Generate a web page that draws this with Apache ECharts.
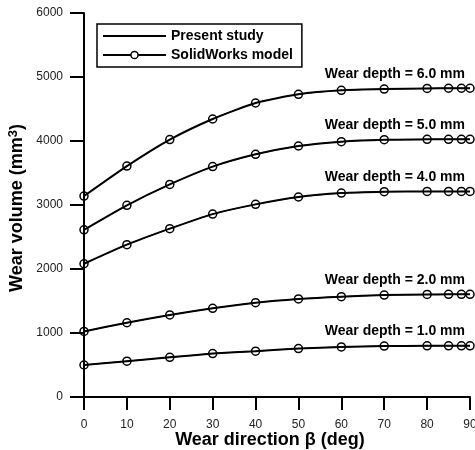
<!DOCTYPE html>
<html>
<head>
<meta charset="utf-8">
<script src="https://cdn.jsdelivr.net/npm/echarts@6/dist/echarts.min.js"></script>
<style>
  html, body { margin: 0; padding: 0; background: #fff; }
  #chart { width: 475px; height: 450px; }
</style>
</head>
<body>
<div id="chart"></div>
<script>
const chartDom = document.querySelector('#chart')
let chart = echarts.init(chartDom)

// wear direction beta (deg)
const beta = [0, 10, 20, 30, 40, 50, 60, 70, 80, 85, 88, 90]

// wear volume (mm3) for each wear depth
const depthLabels = ['6.0', '5.0', '4.0', '2.0', '1.0']
const vol6 = [3140, 3608, 4022, 4344, 4594, 4730, 4792, 4812, 4822, 4824, 4824, 4824]
const vol5 = [2612, 2995, 3322, 3600, 3792, 3922, 3990, 4020, 4026, 4027, 4027, 4027]
const vol4 = [2082, 2380, 2630, 2858, 3010, 3125, 3186, 3208, 3212, 3212, 3212, 3212]
const vol2 = [1025, 1160, 1282, 1386, 1474, 1532, 1568, 1592, 1602, 1604, 1604, 1604]
const vol1 = [500, 560, 620, 678, 716, 756, 782, 796, 800, 800, 800, 800]
const volumes = [vol6, vol5, vol4, vol2, vol1]

const yTicks = [0, 1000, 2000, 3000, 4000, 5000, 6000]

const font = 'Liberation Sans, Arial, sans-serif'

function pairs(vals) {
    return beta.map((b, i) => [b, vals[i]])
}

let series = []
volumes.forEach((vals, k) => {
    let last = vals[vals.length - 1]
    series.push({
        type: 'line',
        name: 'Present study',
        data: pairs(vals),
        smooth: 0.2,
        symbol: 'none',
        lineStyle: { color: '#000', width: 2 },
        itemStyle: { color: '#000' },
        z: 2,
        markPoint: {
            symbol: 'circle',
            symbolSize: 0,
            silent: true,
            data: [{ coord: [90, last] }],
            label: {
                show: true,
                position: 'left',
                distance: 5,
                offset: [0, -14.5],
                formatter: 'Wear depth = ' + depthLabels[k] + ' mm',
                color: '#000',
                fontFamily: font,
                fontWeight: 'bold',
                fontSize: 14
            }
        }
    })
    series.push({
        type: 'line',
        name: 'SolidWorks model',
        data: pairs(vals),
        smooth: 0.2,
        symbol: 'circle',
        symbolSize: 8,
        showAllSymbol: true,
        lineStyle: { color: '#000', width: 1 },
        itemStyle: { color: 'rgba(0,0,0,0)', borderColor: '#000', borderWidth: 1.5 },
        z: 3
    })
})

let option = {
    animation: false,
    backgroundColor: '#fff',
    grid: { left: 84, right: 5, top: 13, bottom: 53, containLabel: false, outerBoundsMode: 'none' },
    // y axis title, drawn as rotated text so the superscript stays in place
    graphic: [{
        type: 'text',
        x: 17,
        y: 208,
        rotation: Math.PI / 2,
        style: {
            text: '{a|Wear volume (mm}{b|3}{a|)}',
            align: 'center',
            verticalAlign: 'middle',
            rich: {
                a: { fontFamily: font, fontWeight: 'bold', fontSize: 18, fill: '#000' },
                b: { fontFamily: font, fontWeight: 'bold', fontSize: 13, fill: '#000', padding: [0, 0, 8, 0] }
            }
        }
    }],
    legend: {
        orient: 'vertical',
        left: 97,
        top: 24,
        padding: [5, 9, 5, 5],
        itemGap: 5,
        itemWidth: 63,
        itemHeight: 9,
        borderColor: '#000',
        borderWidth: 1.5,
        borderRadius: 0,
        textStyle: { color: '#000', fontFamily: font, fontWeight: 'bold', fontSize: 14 },
        data: [
            { name: 'Present study', itemStyle: { color: 'rgba(0,0,0,0)', borderWidth: 0 } },
            { name: 'SolidWorks model', itemStyle: { color: '#fff', borderColor: '#000', borderWidth: 1.5 } }
        ]
    },
    xAxis: {
        type: 'value',
        min: 0,
        max: 90,
        interval: 10,
        name: 'Wear direction β (deg)',
        nameLocation: 'middle',
        nameGap: 34,
        nameMoveOverlap: false,
        nameTextStyle: { color: '#000', fontFamily: font, fontWeight: 'bold', fontSize: 18, padding: [0, 14, 0, 0] },
        axisLine: { show: true, onZero: false, lineStyle: { color: '#000', width: 2 } },
        axisTick: { show: true, length: 13, lineStyle: { color: '#000', width: 2 } },
        axisLabel: { color: '#222', fontFamily: font, fontSize: 12, margin: 22 },
        splitLine: { show: false }
    },
    yAxis: {
        type: 'value',
        min: yTicks[0],
        max: yTicks[yTicks.length - 1],
        interval: 1000,
        axisLine: { show: true, lineStyle: { color: '#000', width: 2 } },
        axisTick: { show: true, length: 14, lineStyle: { color: '#000', width: 2 } },
        axisLabel: { color: '#222', fontFamily: font, fontSize: 12, margin: 21, formatter: v => String(v) },
        splitLine: { show: false }
    },
    series: series
}

chart.setOption(option)
</script>
</body>
</html>
